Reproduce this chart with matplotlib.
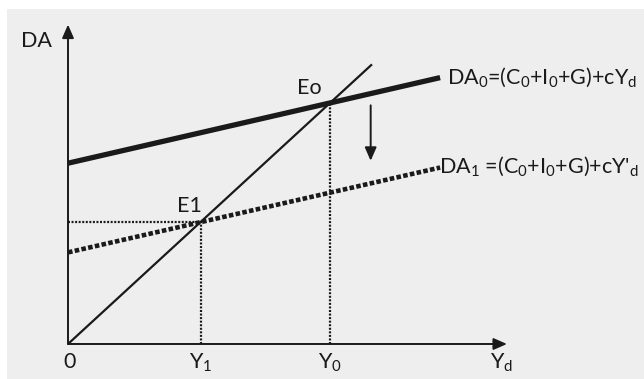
import matplotlib
matplotlib.use('Agg')
import matplotlib.pyplot as plt
from matplotlib.patches import Rectangle

plt.rcParams['font.family'] = ['Lato', 'DejaVu Sans']
plt.rcParams['mathtext.fontset'] = 'custom'
plt.rcParams['mathtext.rm'] = 'Lato'
plt.rcParams['mathtext.it'] = 'Lato:italic'

# model values (income on x, aggregate demand on y)
income_ends = [0.0, 14.2]
da0 = [7.5, 11.05]          # DA0 = (C0+I0+G) + cYd
da1 = [3.8, 7.32]           # DA1 after the shift down
line45_x = [0.0, 11.6]
line45_y = [0.0, 11.6]
eq_x = [10.0, 5.07]         # Y0, Y1
eq_y = [10.0, 5.07]
eq_names = ['Eo', 'E1']
x_axis_max = 16.75
y_axis_max = 13.25
shift_x = 11.55
shift_from = 9.9
shift_to = 7.6

ink = '#1a1a1a'

fig = plt.figure(figsize=(6.44, 3.79), dpi=100)
ax = fig.add_axes([0, 0, 1, 1])
ax.set_xlim(-2.595, 21.98)
ax.set_ylim(-1.452, 14.27)
ax.axis('off')
ax.add_patch(Rectangle((7 / 644, 0), 1, 1 - 9 / 379, transform=fig.transFigure,
                       facecolor='#eeeeee', edgecolor='none', zorder=-10))

# axes with arrow heads
arrow = dict(arrowstyle='-|>,head_length=0.8,head_width=0.35', color=ink, lw=1.4,
             shrinkA=0, shrinkB=0)
ax.annotate('', xy=(x_axis_max, 0), xytext=(0, 0), arrowprops=arrow)
ax.annotate('', xy=(0, y_axis_max), xytext=(0, 0), arrowprops=arrow)

# 45 degree line
ax.plot(line45_x, line45_y, color=ink, lw=1.6, solid_capstyle='butt')

# demand lines
ax.plot(income_ends, da0, color=ink, lw=3.8, solid_capstyle='butt')
ax.plot(income_ends, da1, color=ink, lw=3.3, linestyle=(0, (1.0, 0.5)))

# guide lines to the equilibria
for x, y in zip(eq_x, eq_y):
    ax.plot([x, x], [0, y], color=ink, lw=1.6, linestyle=(0, (0.9, 0.7)))
ax.plot([0, eq_x[1]], [eq_y[1], eq_y[1]], color=ink, lw=1.6, linestyle=(0, (0.9, 0.7)))

# shift arrow
ax.annotate('', xy=(shift_x, shift_to), xytext=(shift_x, shift_from),
            arrowprops=dict(arrowstyle='-|>,head_length=0.8,head_width=0.35',
                            color=ink, lw=1.4, shrinkA=0, shrinkB=0))

fs = 15.5
ax.text(eq_x[0] - 0.8, eq_y[0] + 0.6, eq_names[0], fontsize=fs, ha='center', va='center', color=ink)
ax.text(eq_x[1] - 0.45, eq_y[1] + 0.65, eq_names[1], fontsize=fs, ha='center', va='center', color=ink)
ax.text(-1.2, 12.55, 'DA', fontsize=fs, ha='center', va='center', color=ink)
ax.text(0.05, -0.75, '0', fontsize=fs, ha='center', va='center', color=ink)
ax.text(eq_x[1], -0.8, r'Y$_\mathrm{1}$', fontsize=fs, ha='center', va='center', color=ink)
ax.text(eq_x[0], -0.8, r'Y$_\mathrm{0}$', fontsize=fs, ha='center', va='center', color=ink)
ax.text(x_axis_max - 0.2, -0.8, r'Y$_\mathrm{d}$', fontsize=fs, ha='center', va='center', color=ink)
ax.text(14.45, da0[1], r'DA$_\mathrm{0}$=(C$_\mathrm{0}$+I$_\mathrm{0}$+G)+cY$_\mathrm{d}$',
        fontsize=fs, ha='left', va='center', color=ink)
ax.text(14.15, da1[1] + 0.05, r"DA$_\mathrm{1}$ =(C$_\mathrm{0}$+I$_\mathrm{0}$+G)+cY$'_\mathrm{d}$",
        fontsize=fs, ha='left', va='center', color=ink)

fig.savefig('out.png', dpi=100)
